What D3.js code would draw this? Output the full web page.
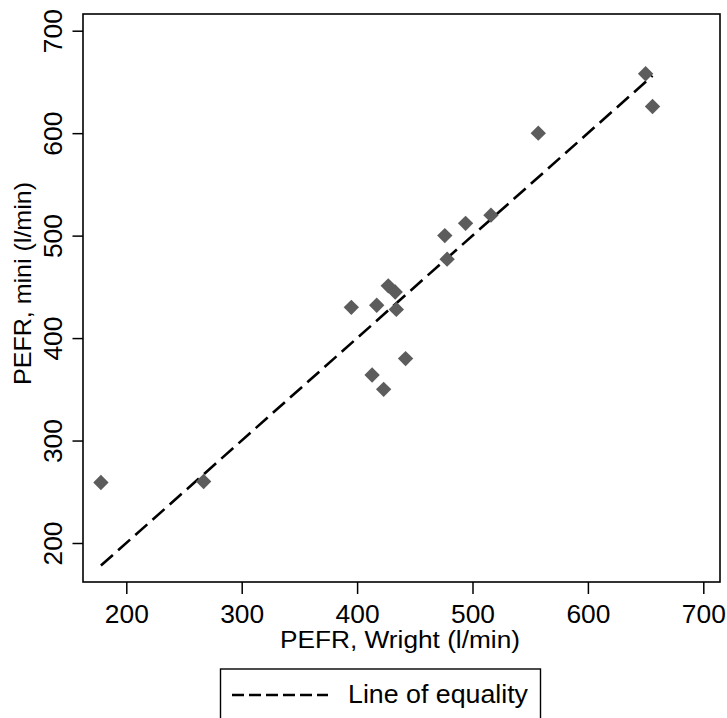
<!DOCTYPE html>
<html><head><meta charset="utf-8">
<script src="https://cdn.jsdelivr.net/npm/d3@7"></script>
<style>body{margin:0;background:#fff}text{font-family:"Liberation Sans",Arial,sans-serif;fill:#000}</style>
</head><body>
<svg id="c" width="727" height="718"></svg>
<script>
const wright = [494, 395, 516, 434, 476, 557, 413, 442, 650, 433, 417, 656, 267, 478, 178, 423, 427];
const mini   = [512, 430, 520, 428, 500, 600, 364, 380, 658, 445, 432, 626, 260, 477, 259, 350, 451];
const tickValues = [200, 300, 400, 500, 600, 700];
const xTitle = "PEFR, Wright (l/min)";
const yTitle = "PEFR, mini (l/min)";
const legendLabel = "Line of equality";

const svg = d3.select("#c");
const frame = {l: 83, t: 14, r: 720, b: 582};
const x = d3.scaleLinear().domain([200, 700]).range([126.3, 703.3]);
const y = d3.scaleLinear().domain([200, 700]).range([543, 30.7]);

// frame
svg.append("rect").attr("x", frame.l).attr("y", frame.t)
  .attr("width", frame.r - frame.l).attr("height", frame.b - frame.t)
  .attr("fill", "none").attr("stroke", "#000").attr("stroke-width", 1.6);

// x axis
const xa = svg.append("g").attr("transform", `translate(0,${frame.b})`)
  .call(d3.axisBottom(x).tickValues(tickValues).tickSize(12).tickPadding(11).tickFormat(d3.format("d")));
xa.select(".domain").remove();
xa.selectAll("line").attr("stroke", "#000").attr("stroke-width", 1.5);
xa.selectAll("text").attr("font-size", 25).attr("font-family", "Liberation Sans, Arial, sans-serif")
  .attr("dy", null).attr("y", 41).attr("textLength", 44).attr("lengthAdjust", "spacingAndGlyphs");

// y axis
const ya = svg.append("g").attr("transform", `translate(${frame.l},0)`)
  .call(d3.axisLeft(y).tickValues(tickValues).tickSize(10.5).tickFormat(d3.format("d")));
ya.select(".domain").remove();
ya.selectAll("line").attr("stroke", "#000").attr("stroke-width", 1.5);
ya.selectAll("text").attr("font-size", 25).attr("font-family", "Liberation Sans, Arial, sans-serif")
  .attr("x", null).attr("dy", null).attr("text-anchor", "middle")
  .attr("textLength", 44).attr("lengthAdjust", "spacingAndGlyphs")
  .attr("transform", "translate(-21,0) rotate(-90)");

// equality line
const lo = d3.min(wright), hi = d3.max(wright);
svg.append("line")
  .attr("x1", x(lo)).attr("y1", y(lo)).attr("x2", x(hi)).attr("y2", y(hi))
  .attr("stroke", "#000").attr("stroke-width", 2.6).attr("stroke-dasharray", "16,7");

// points
const diamond = d3.symbol().type(d3.symbolSquare).size(118);
svg.append("g").selectAll("path").data(wright.map((w, i) => [w, mini[i]])).join("path")
  .attr("d", diamond)
  .attr("transform", d => `translate(${x(d[0])},${y(d[1])}) rotate(45)`)
  .attr("fill", "#5c5c5c");

// titles
svg.append("text").attr("x", 400).attr("y", 648).attr("text-anchor", "middle")
  .attr("font-size", 23).attr("textLength", 240).attr("lengthAdjust", "spacingAndGlyphs").text(xTitle);
svg.append("text").attr("transform", "translate(31,283.5) rotate(-90)").attr("text-anchor", "middle")
  .attr("font-size", 24).attr("textLength", 203).attr("lengthAdjust", "spacingAndGlyphs").text(yTitle);

// legend
const lg = svg.append("g");
lg.append("rect").attr("x", 220.5).attr("y", 669).attr("width", 320).attr("height", 60)
  .attr("fill", "#fff").attr("stroke", "#000").attr("stroke-width", 1.4);
lg.append("line").attr("x1", 232).attr("x2", 328).attr("y1", 695).attr("y2", 695)
  .attr("stroke", "#000").attr("stroke-width", 2.6).attr("stroke-dasharray", "12,5");
lg.append("text").attr("x", 348).attr("y", 703).attr("font-size", 25)
  .attr("textLength", 180).attr("lengthAdjust", "spacingAndGlyphs").text(legendLabel);
</script>
</body></html>
